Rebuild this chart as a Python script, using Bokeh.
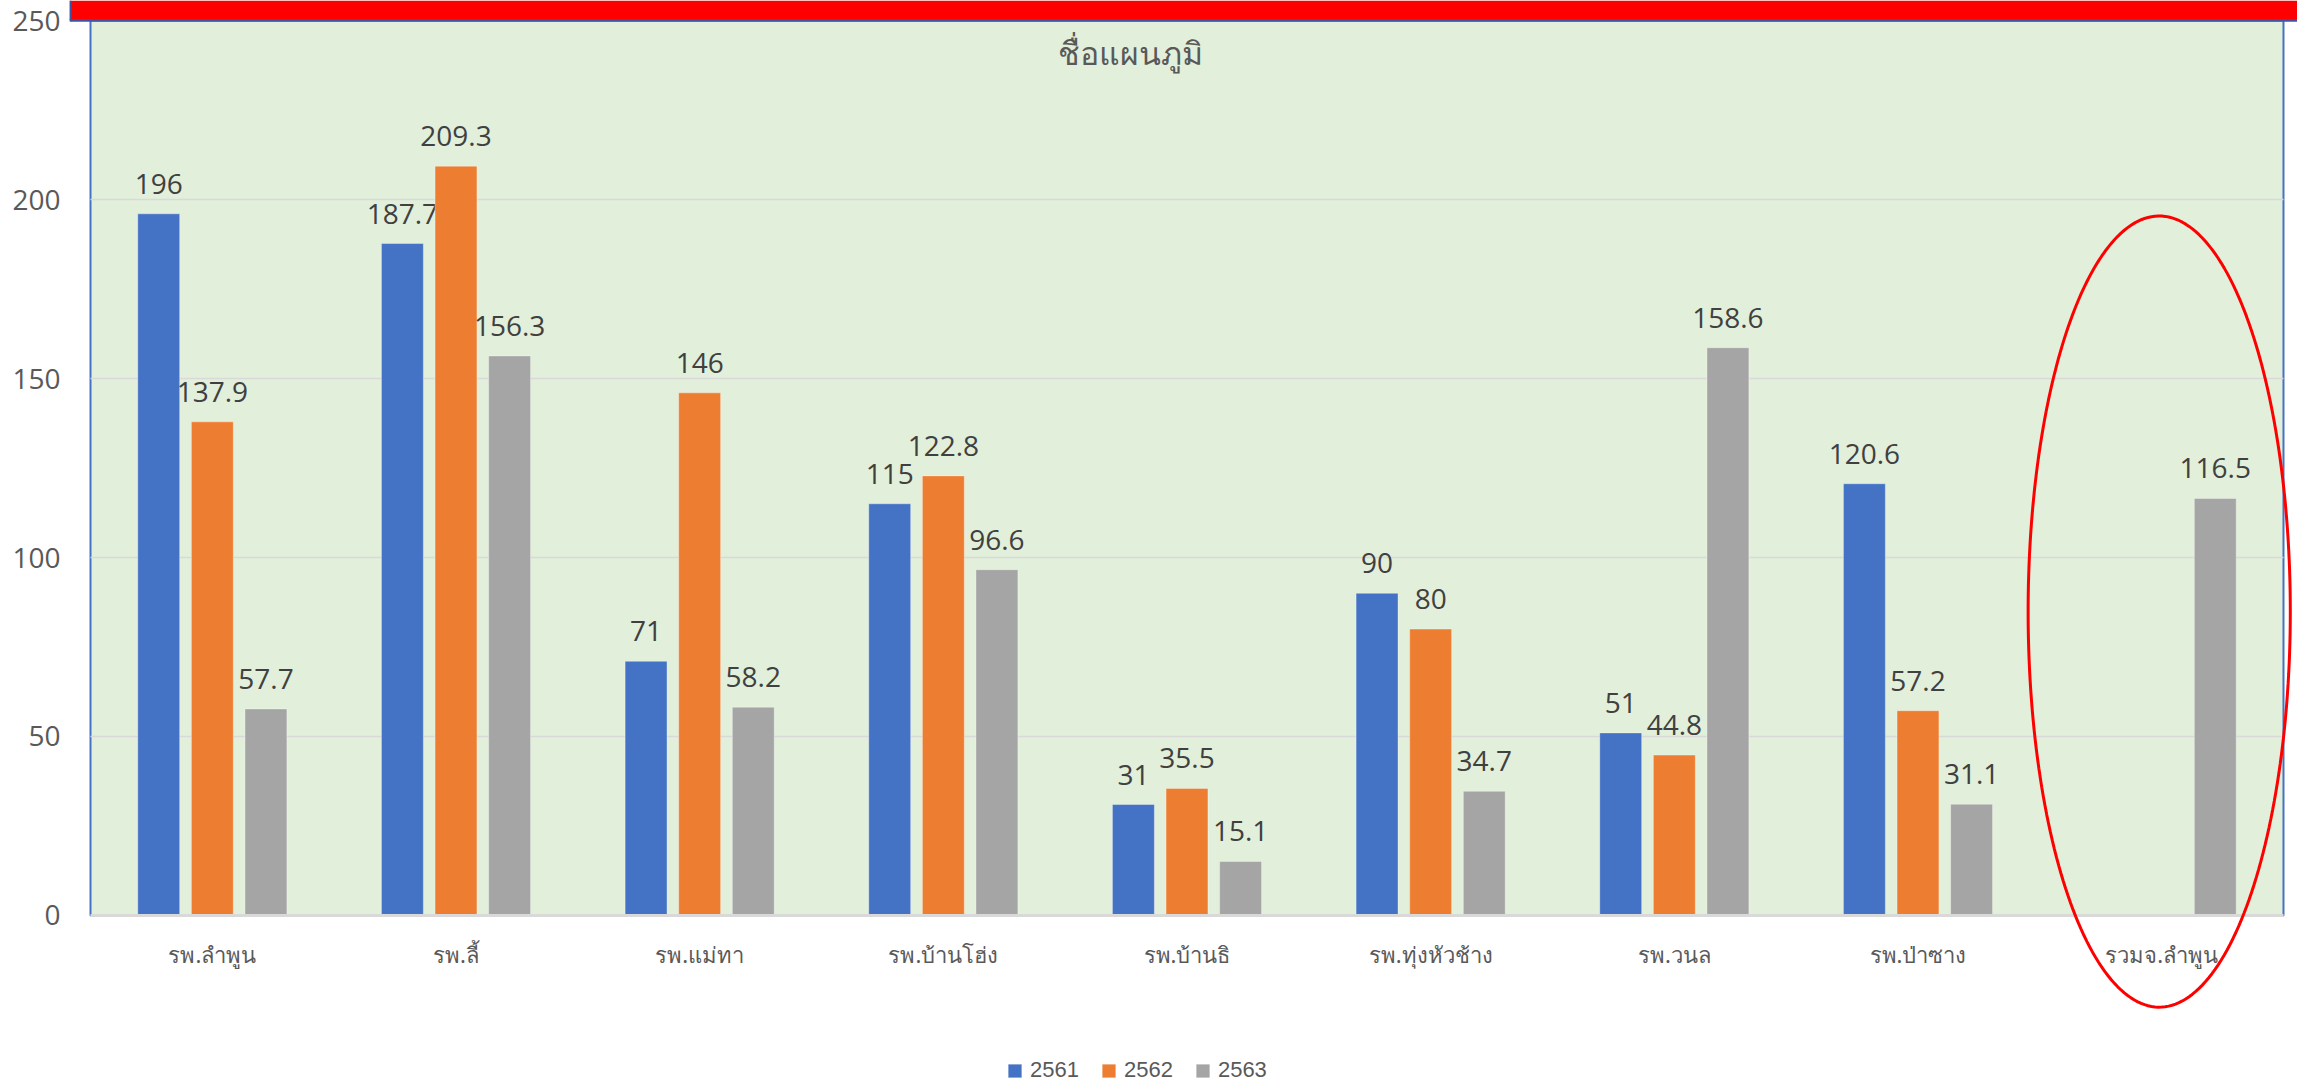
import math
import numpy as np
from bokeh.plotting import figure
from bokeh.models import (ColumnDataSource, Range1d, Legend, LegendItem, FixedTicker,
                          BoxAnnotation, PolyAnnotation, Label, Span)
from bokeh.core.properties import value
from bokeh.embed import file_html
from bokeh.resources import INLINE

# ---- data ----
categories = ["รพ.ลำพูน", "รพ.ลี้", "รพ.แม่ทา", "รพ.บ้านโฮ่ง", "รพ.บ้านธิ",
              "รพ.ทุ่งหัวช้าง", "รพ.วนล", "รพ.ป่าซาง", "รวมจ.ลำพูน"]
series_names = ["2561", "2562", "2563"]
v2561 = [196, 187.7, 71, 115, 31, 90, 51, 120.6, float("nan")]
v2562 = [137.9, 209.3, 146, 122.8, 35.5, 80, 44.8, 57.2, float("nan")]
v2563 = [57.7, 156.3, 58.2, 96.6, 15.1, 34.7, 158.6, 31.1, 116.5]
y_ticks = [0, 50, 100, 150, 200, 250]
chart_title = "ชื่อแผนภูมิ"

colors = ["#4472C4", "#ED7D31", "#A5A5A5"]
offsets = [-0.22, 0.0, 0.22]
idx = np.arange(len(categories))

W, H = 2297, 1083
p = figure(width=W, height=H, x_range=Range1d(-0.5862, 8.5575),
           y_range=Range1d(-46.93, 255.59), output_backend="svg", toolbar_location=None,
           min_border_left=69, min_border_right=0, min_border_top=0,
           min_border_bottom=0)
p.background_fill_color = "white"
p.border_fill_color = "white"
p.outline_line_color = None

# plot area (green with blue border)
p.add_layout(BoxAnnotation(left=-0.5, right=8.5, bottom=0, top=250,
                           fill_color="#E2EFDA", fill_alpha=1.0,
                           line_color="#4472C4", line_alpha=1.0, line_width=2,
                           level="underlay"))

# horizontal gridlines within the plot area
p.segment(x0=-0.5, x1=8.5, y0=y_ticks[1:], y1=y_ticks[1:],
          line_color="#D9D9D9", line_width=1.5)

items = []
for name, vals, col, off in zip(series_names, [v2561, v2562, v2563], colors, offsets):
    src = ColumnDataSource(dict(
        x=idx + off, val=vals,
        lbl=["" if math.isnan(v) else f"{v:g}" for v in vals],
        ly=[0 if math.isnan(v) else v for v in vals]))
    r = p.vbar(x="x", top="val", width=0.172, source=src, fill_color=col,
               line_color="white", line_alpha=0.35, line_width=1)
    p.text(x="x", y="ly", text="lbl", source=src,
           text_align="center", text_baseline="alphabetic", y_offset=-30,
           text_font=value("Open Sans"), text_font_size="28px", text_color="#404040")
    items.append(LegendItem(label=name, renderers=[r]))

# axes
p.yaxis.ticker = FixedTicker(ticks=y_ticks)
p.yaxis.axis_line_color = None
p.yaxis.major_tick_line_color = None
p.yaxis.minor_tick_line_color = None
p.yaxis.major_tick_out = 0
p.yaxis.major_tick_in = 0
p.yaxis.major_label_standoff = 9
p.yaxis.major_label_text_font = "Open Sans"
p.yaxis.major_label_text_font_size = "28px"
p.yaxis.major_label_text_color = "#595959"

p.xaxis.ticker = FixedTicker(ticks=list(idx))
p.xaxis.major_label_overrides = {int(i): c for i, c in zip(idx, categories)}
p.xaxis.fixed_location = 0
p.xaxis.bounds = (-0.5, 8.5)
p.xaxis.axis_line_color = "#D9D9D9"
p.xaxis.axis_line_width = 3
p.xaxis.major_tick_line_color = None
p.xaxis.minor_tick_line_color = None
p.xaxis.major_tick_out = 0
p.xaxis.major_tick_in = 0
p.xaxis.major_label_standoff = 24
p.xaxis.major_label_text_font = "Noto Sans"
p.xaxis.major_label_text_font_size = "22px"
p.xaxis.major_label_text_color = "#595959"

p.xgrid.grid_line_color = None
p.ygrid.grid_line_color = None

# chart title
p.add_layout(Label(x=3.768, y=241, text=chart_title, text_align="center",
                   text_baseline="middle", text_font="Noto Sans",
                   text_font_size="32px", text_color="#595959"))

# red banner across the top (blue left edge and bottom edge)
p.add_layout(BoxAnnotation(bottom=250, fill_color="#FF0000", fill_alpha=1.0,
                           line_color=None, level="overlay"))
p.add_layout(BoxAnnotation(right=-0.578, bottom=250, fill_color="#3B54A3",
                           fill_alpha=1.0, line_color=None, level="overlay"))
p.add_layout(Span(location=250, dimension="width", line_color="#3B54A3",
                  line_width=2.5, level="overlay"))

# red ellipse highlighting the province total
t = np.linspace(0, 2 * np.pi, 240)
cx, cy, rx, ry = 7.99, 84.9, 0.538, 110.5
p.add_layout(PolyAnnotation(xs=list(cx + rx * np.cos(t)), ys=list(cy + ry * np.sin(t)),
                            fill_alpha=0, line_color="#FF0000", line_alpha=1.0,
                            line_width=3, level="overlay"))

legend = Legend(items=items, orientation="horizontal", location=(937, 0),
                glyph_width=17, glyph_height=17, label_height=17,
                label_standoff=7, spacing=21, padding=0, margin=0,
                border_line_color=None, background_fill_alpha=0,
                label_text_font="Liberation Sans", label_text_font_size="22px",
                label_text_color="#595959")
p.add_layout(legend, "center")

open("out.html", "w").write(file_html(p, INLINE))
